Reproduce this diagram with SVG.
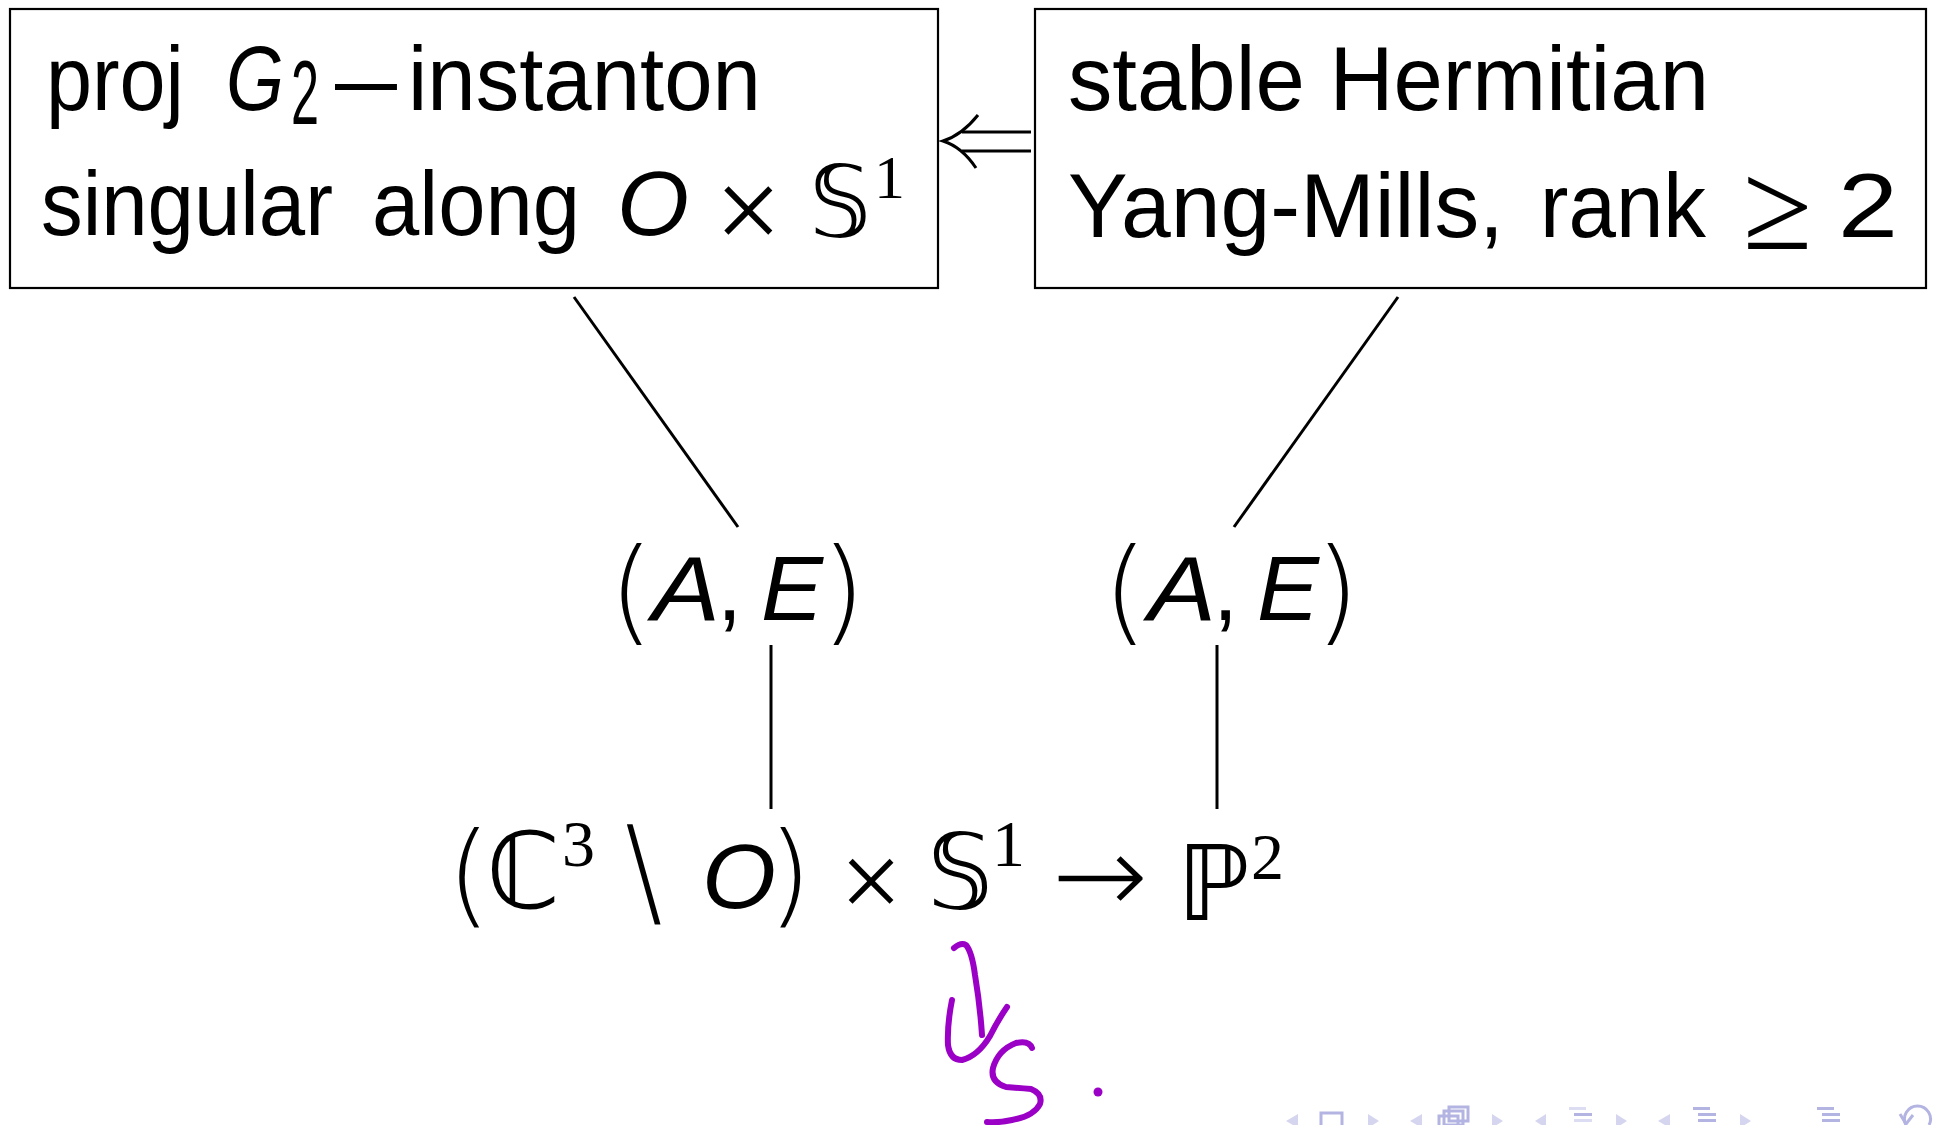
<svg xmlns="http://www.w3.org/2000/svg" width="1937" height="1125" viewBox="0 0 1937 1125">
<style>
.t{font-family:"Liberation Sans",Arial,sans-serif;font-size:90px;fill:#000}
.i{font-style:italic}
.dv{font-family:"DejaVu Sans",sans-serif}
.lt{font-family:"DejaVu Sans",sans-serif;font-weight:200}
.sr{font-family:"Liberation Serif",serif}
.box{fill:none;stroke:#000;stroke-width:2.2}
.ln{stroke:#000;stroke-width:3;fill:none}
.pen{fill:none;stroke:#9b00c6;stroke-width:6;stroke-linecap:round;stroke-linejoin:round}
.tri{fill:#d5d5ef}
.nv{fill:none;stroke:#b4b4e2;stroke-width:3}
.bar{fill:#b4b4e2}
.bar2{fill:#dcdcf2}
</style>
<rect width="1937" height="1125" fill="#fff"/>

<g id="node-g2">
<rect class="box" x="10" y="9" width="928" height="279"/>
<text class="t" x="46" y="110" textLength="138" lengthAdjust="spacingAndGlyphs">proj</text>
<text class="t i" x="226" y="110" textLength="58" lengthAdjust="spacingAndGlyphs">G</text>
<text class="t" x="291" y="124" font-size="44" textLength="28" lengthAdjust="spacingAndGlyphs">2</text>
<text class="t" x="335" y="110" textLength="62" lengthAdjust="spacingAndGlyphs">—</text>
<text class="t" x="408" y="110" textLength="353" lengthAdjust="spacingAndGlyphs">instanton</text>
<text class="t" x="41" y="235" textLength="292" lengthAdjust="spacingAndGlyphs">singular</text>
<text class="t" x="372" y="235" textLength="208" lengthAdjust="spacingAndGlyphs">along</text>
<text class="t i" x="617" y="235" textLength="72" lengthAdjust="spacingAndGlyphs">O</text>
<text class="sr" x="715" y="250" font-size="118">×</text>
<text class="dv" x="809" y="236" font-size="98">𝕊</text>
<text class="sr" x="874" y="198" font-size="62">1</text>
</g>

<g id="node-hym">
<rect class="box" x="1035" y="9" width="891" height="279"/>
<text class="t" x="1068" y="110" textLength="641" lengthAdjust="spacingAndGlyphs">stable Hermitian</text>
<text class="t" x="1068" y="237" textLength="436" lengthAdjust="spacingAndGlyphs">Yang-Mills,</text>
<text class="t" x="1540" y="237" textLength="166" lengthAdjust="spacingAndGlyphs">rank</text>
<text class="sr" x="1743" y="249" font-size="126">≥</text>
<text class="t" x="1838" y="237" textLength="60" lengthAdjust="spacingAndGlyphs">2</text>
</g>

<g id="node-ae-left">
<text class="lt" x="609" y="630" font-size="114">(</text>
<text class="t i" x="652" y="620" font-size="112" textLength="68" lengthAdjust="spacingAndGlyphs">A</text>
<text class="t" x="717" y="620" font-size="104">,</text>
<text class="t i" x="761" y="620" font-size="112" textLength="62" lengthAdjust="spacingAndGlyphs">E</text>
<text class="lt" x="821" y="630" font-size="114">)</text>
</g>

<g id="node-ae-right">
<text class="lt" x="1103" y="630" font-size="114">(</text>
<text class="t i" x="1148" y="620" font-size="112" textLength="68" lengthAdjust="spacingAndGlyphs">A</text>
<text class="t" x="1213" y="620" font-size="104">,</text>
<text class="t i" x="1257" y="620" font-size="112" textLength="62" lengthAdjust="spacingAndGlyphs">E</text>
<text class="lt" x="1315" y="630" font-size="114">)</text>
</g>

<g id="node-base">
<text class="lt" x="447" y="912" font-size="112">(</text>
<text class="dv" x="486" y="908" font-size="106">ℂ</text>
<text class="sr" x="562" y="866" font-size="66">3</text>
<text class="lt" x="604" y="918" font-size="122" textLength="70" lengthAdjust="spacingAndGlyphs">∖</text>
<text class="t i" x="702" y="908" font-size="112" textLength="74" lengthAdjust="spacingAndGlyphs">O</text>
<text class="lt" x="768" y="912" font-size="112">)</text>
<text class="sr" x="840" y="918" font-size="110">×</text>
<text class="dv" x="927" y="908" font-size="104">𝕊</text>
<text class="sr" x="992" y="866" font-size="66">1</text>
<text class="lt" x="1052" y="913" font-size="110" textLength="96" lengthAdjust="spacingAndGlyphs">→</text>
<text class="dv" x="1177" y="920" font-size="104">ℙ</text>
<text class="sr" x="1251" y="879" font-size="66">2</text>
</g>

<g id="connectors">
<line class="ln" x1="574" y1="297" x2="738" y2="527"/>
<line class="ln" x1="1398" y1="297" x2="1234" y2="527"/>
<line class="ln" x1="771" y1="645" x2="771" y2="809"/>
<line class="ln" x1="1217" y1="645" x2="1217" y2="809"/>
<path class="ln" d="M1031 132 H962 M1031 151 H962"/>
<path class="ln" d="M978 115 Q962 135 943 141 Q962 147 976 168"/>
</g>

<g id="handwriting">
<path class="pen" d="M954 948 Q961 942 966 945 Q972 952 975 975 Q980 1005 982 1035"/>
<path class="pen" d="M952 1000 Q947 1025 948 1045 Q950 1060 962 1060 Q978 1056 990 1036 Q998 1020 1007 1007"/>
<path class="pen" d="M1032 1048 Q1029 1040 1016 1043 Q998 1050 993 1068 Q990 1082 1006 1087 Q1020 1088 1031 1089 Q1043 1094 1040 1104 Q1034 1116 1012 1120 Q998 1123 987 1122"/>
<circle cx="1098" cy="1092" r="4.5" fill="#9b00c6"/>
</g>

<g id="nav">
<polygon class="tri" points="1286,1121 1298,1114 1298,1128"/>
<rect class="nv" x="1321" y="1113" width="21" height="16"/>
<polygon class="tri" points="1379,1121 1368,1114 1368,1128"/>
<polygon class="tri" points="1410,1121 1422,1114 1422,1128"/>
<rect class="nv" x="1449" y="1107" width="19" height="14"/>
<rect class="nv" x="1444" y="1111" width="19" height="14"/>
<rect class="nv" x="1439" y="1116" width="19" height="14"/>
<polygon class="tri" points="1503,1121 1492,1114 1492,1128"/>
<polygon class="tri" points="1535,1121 1546,1114 1546,1128"/>
<rect class="bar2" x="1569" y="1107" width="17" height="3"/>
<rect class="bar" x="1574" y="1113" width="18" height="3"/>
<rect class="bar2" x="1574" y="1119" width="18" height="3"/>
<polygon class="tri" points="1627,1121 1616,1114 1616,1128"/>
<polygon class="tri" points="1658,1121 1670,1114 1670,1128"/>
<rect class="bar" x="1693" y="1107" width="17" height="3"/>
<rect class="bar" x="1698" y="1113" width="18" height="3"/>
<rect class="bar" x="1698" y="1119" width="18" height="3"/>
<polygon class="tri" points="1751,1121 1740,1114 1740,1128"/>
<rect class="bar" x="1817" y="1107" width="17" height="3"/>
<rect class="bar" x="1822" y="1113" width="18" height="3"/>
<rect class="bar" x="1822" y="1119" width="18" height="3"/>
<path class="nv" d="M1906 1125 A13 13 0 1 1 1929 1125"/>
<path class="nv" d="M1900 1114 L1906 1124 L1913 1115"/>
</g>
</svg>
